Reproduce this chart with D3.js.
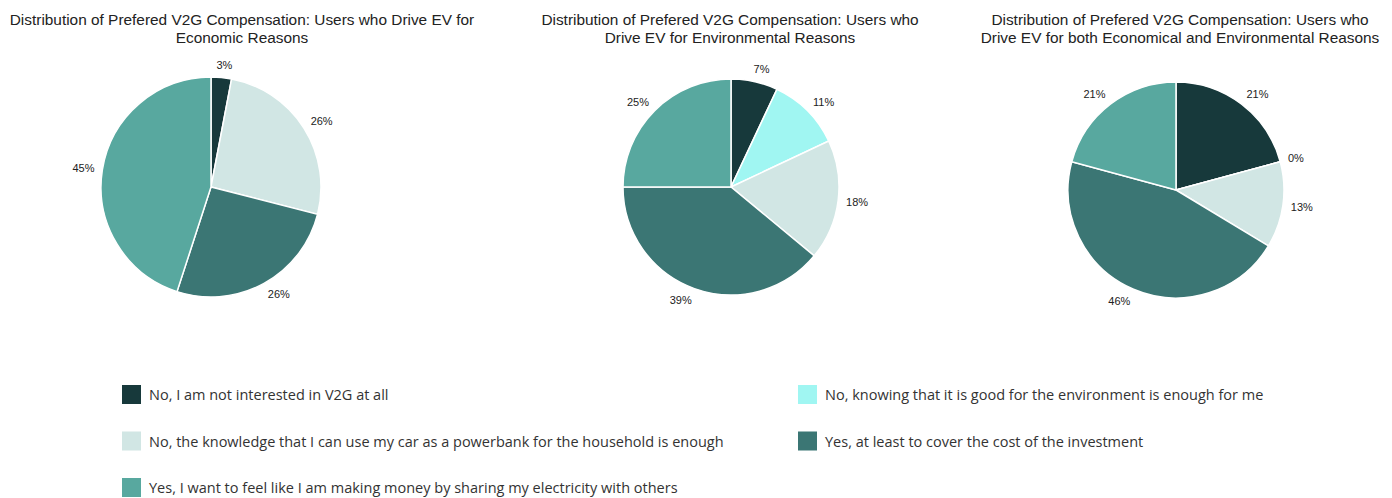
<!DOCTYPE html>
<html>
<head>
<meta charset="utf-8">
<script src="https://cdn.jsdelivr.net/npm/d3@7"></script>
<style>
  body { margin: 0; background: #fff; }
  svg { display: block; }
</style>
</head>
<body>
<svg id="chart" width="1392" height="498"></svg>
<script>
// categories (legend order) and slice colours
const categories = [
  'No, I am not interested in V2G at all',
  'No, knowing that it is good for the environment is enough for me',
  'No, the knowledge that I can use my car as a powerbank for the household is enough',
  'Yes, at least to cover the cost of the investment',
  'Yes, I want to feel like I am making money by sharing my electricity with others'
];
const colors = ['#17393b', '#a0f6f2', '#d1e6e4', '#3b7674', '#58a89f'];

// percentages per chart, null = category not present in that chart
const economic = [3, null, 26, 26, 45];
const environmental = [7, 11, 18, 39, 25];
const both = [21, 0, 13, 46, 21];

const titles = [
  ['Distribution of Prefered V2G Compensation: Users who Drive EV for', 'Economic Reasons'],
  ['Distribution of Prefered V2G Compensation: Users who', 'Drive EV for Environmental Reasons'],
  ['Distribution of Prefered V2G Compensation: Users who', 'Drive EV for both Economical and Environmental Reasons']
];

const svg = d3.select('#chart');

const charts = [
  {values: economic, cx: 211, cy: 187, r: 110, tx: 242},
  {values: environmental, cx: 731, cy: 187, r: 108, tx: 730},
  {values: both, cx: 1176, cy: 190, r: 108, tx: 1180}
];

const pie = d3.pie().sort(null).value(d => d.v);

charts.forEach((c, i) => {
  const items = c.values.map((v, k) => ({v, k})).filter(d => d.v !== null);
  const arcs = pie(items);
  const arc = d3.arc().innerRadius(0).outerRadius(c.r);

  const g = svg.append('g').attr('transform', `translate(${c.cx},${c.cy})`);

  g.selectAll('path').data(arcs).join('path')
    .attr('d', arc)
    .attr('fill', d => colors[d.data.k])
    .attr('stroke', '#fff')
    .attr('stroke-width', 1.5);

  // outside labels: nearest side of the text sits a few px off the rim
  g.selectAll('text').data(arcs).join('text')
    .attr('text-anchor', 'middle')
    .attr('dy', '0.35em')
    .style('font-family', 'Liberation Sans, Arial, sans-serif')
    .style('font-size', '11px')
    .style('fill', '#222')
    .text(d => d.data.v + '%')
    .attr('transform', function(d) {
      const a = (d.startAngle + d.endAngle) / 2;
      const s = Math.sin(a), co = Math.cos(a);
      const w = this.getComputedTextLength();
      const rr = c.r + 8;
      const x = rr * s + Math.sign(s) * Math.min(1, Math.abs(s) * 3) * w / 2;
      const y = -rr * co - co * 4.5;
      return `translate(${x},${y})`;
    });

  const t = svg.append('text')
    .attr('x', c.tx).attr('y', 25)
    .attr('text-anchor', 'middle')
    .style('font-family', 'Liberation Sans, Arial, sans-serif')
    .style('font-size', '15.4px')
    .style('fill', '#222');
  titles[i].forEach((line, j) => {
    t.append('tspan').attr('x', c.tx).attr('dy', j ? 18 : 0).text(line);
  });
});

// legend, two columns filled row-wise
const legend = svg.append('g');
const leg = legend.selectAll('g').data(categories).join('g')
  .attr('transform', (d, i) => `translate(${i % 2 ? 798 : 122},${385 + Math.floor(i / 2) * 46.5})`);
leg.append('rect')
  .attr('width', 19).attr('height', 19)
  .attr('fill', (d, i) => colors[i]);
leg.append('text')
  .attr('x', 27).attr('y', 10).attr('dy', '0.35em')
  .style('font-family', 'Open Sans, sans-serif')
  .style('font-size', '14.5px')
  .style('fill', '#333')
  .text(d => d);
</script>
</body>
</html>
